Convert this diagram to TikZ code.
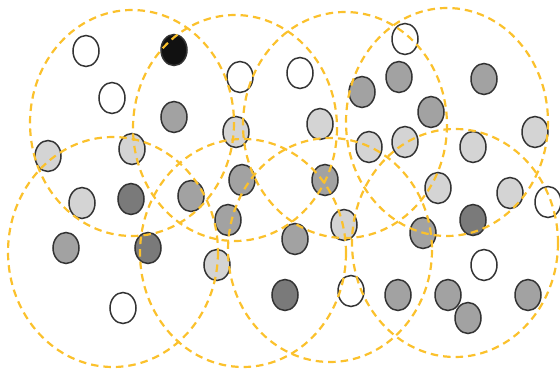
\documentclass[tikz,border=0pt]{standalone}
\usetikzlibrary{shapes.geometric}
\definecolor{lgc}{HTML}{D4D4D4}
\definecolor{mgc}{HTML}{A2A2A2}
\definecolor{dgc}{HTML}{7A7A7A}
\definecolor{blk}{HTML}{111111}
\definecolor{ring}{HTML}{FBC12C}
\definecolor{edge}{HTML}{333333}
\tikzset{
  pt/.style={ellipse, draw=edge, line width=1.5pt, minimum width=26pt, minimum height=31pt, inner sep=0pt},
  W/.style={pt, fill=white},
  L/.style={pt, fill=lgc},
  M/.style={pt, fill=mgc},
  D/.style={pt, fill=dgc},
  K/.style={pt, fill=blk},
  zone/.style={draw=ring, line width=2.2pt, dash pattern=on 7.5pt off 5pt}
}
\begin{document}
\begin{tikzpicture}[x=1pt,y=-1pt]
\useasboundingbox (0,0) rectangle (560,371);
% nodes
\node[W] (n1) at (86,51) {};
\node[K] (n2) at (174,50) {};
\node[W] (n3) at (240,77) {};
\node[W] (n4) at (112,98) {};
\node[M] (n5) at (174,117) {};
\node[L] (n6) at (236,132) {};
\node[L] (n7) at (48,156) {};
\node[L] (n8) at (132,149) {};
\node[W] (n9) at (405,39) {};
\node[W] (n10) at (300,73) {};
\node[M] (n11) at (362,92) {};
\node[M] (n12) at (399,77) {};
\node[M] (n13) at (484,79) {};
\node[M] (n14) at (431,112) {};
\node[L] (n15) at (320,124) {};
\node[L] (n16) at (369,147) {};
\node[L] (n17) at (405,142) {};
\node[L] (n18) at (473,147) {};
\node[L] (n19) at (535,132) {};
\node[L] (n20) at (82,203) {};
\node[D] (n21) at (131,199) {};
\node[M] (n22) at (191,196) {};
\node[M] (n23) at (228,220) {};
\node[M] (n24) at (242,180) {};
\node[M] (n25) at (66,248) {};
\node[D] (n26) at (148,248) {};
\node[L] (n27) at (217,265) {};
\node[W] (n28) at (123,308) {};
\node[M] (n29) at (295,239) {};
\node[L] (n30) at (344,225) {};
\node[M] (n31) at (423,233) {};
\node[D] (n32) at (473,220) {};
\node[L] (n33) at (510,193) {};
\node[W] (n34) at (548,202) {};
\node[L] (n35) at (438,188) {};
\node[M] (n36) at (325,180) {};
\node[W] (n37) at (484,265) {};
\node[D] (n38) at (285,295) {};
\node[W] (n39) at (351,291) {};
\node[M] (n40) at (398,295) {};
\node[M] (n41) at (448,295) {};
\node[M] (n42) at (468,318) {};
\node[M] (n43) at (528,295) {};
% dashed zones
\draw[zone] (132,123) ellipse [x radius=102, y radius=113];
\draw[zone] (235,128) ellipse [x radius=102, y radius=113];
\draw[zone] (345,125) ellipse [x radius=102, y radius=113];
\draw[zone] (447,122) ellipse [x radius=101, y radius=114];
\draw[zone] (113,252) ellipse [x radius=105, y radius=115];
\draw[zone] (243,253) ellipse [x radius=103, y radius=114];
\draw[zone] (330,250) ellipse [x radius=102, y radius=112];
\draw[zone] (455,243) ellipse [x radius=103, y radius=114];
\end{tikzpicture}
\end{document}
